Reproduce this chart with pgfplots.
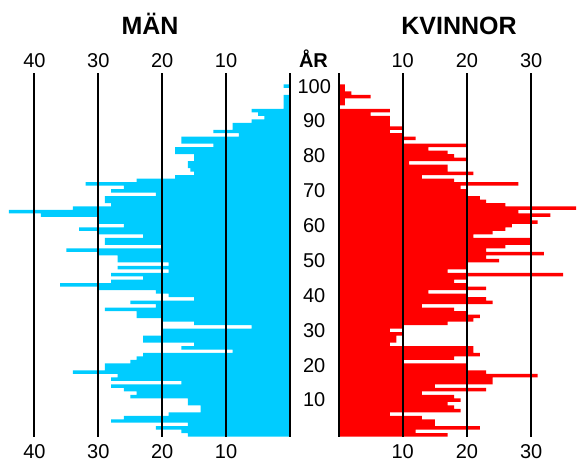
\documentclass[border=0pt]{standalone}
\usepackage{fontspec}
\setmainfont{Liberation Sans}
\usepackage{pgfplots}
\usepackage{pgfplotstable}
\pgfplotsset{compat=1.18}

\definecolor{man}{RGB}{0,204,255}
\definecolor{kvinna}{RGB}{255,0,0}

% age, men, women
\pgfplotstableread{
age men women
100 1 1
99 0 1
98 0 2
97 1 5
96 1 1
95 1 1
94 1 0
93 6 8
92 5 5
91 4 8
90 6 8
89 9 8
88 9 10
87 12 8
86 8 10
85 17 12
84 17 10
83 12 20
82 18 14
81 18 17
80 15 18
79 15 20
78 16 11
77 16 17
76 15.6 17
75 15 21
74 18 13
73 24 18
72 32 28
71 26 19
70 28 20
69 21 20
68 29 22
67 29 23
66 28 26
65 34 37
64 44 28
63 39 33
62 30 30
61 30 31
60 26 27
59 33 26
58 30 24
57 23 21
56 29 30
55 29 30
54 20 26
53 35 23
52 30 32
51 27 23
50 27 25
49 19 20
48 27 20
47 19 17
46 28 35
45 23 20
44 28 18
43 36 20
42 30 23
41 21 14
40 19 20
39 15 23
38 25 24
37 21 13
36 29 18
35 24 20
34 24 22
33 20 21
32 15 17
31 6 10
30 20 8
29 20 10
28 23 9
27 23 9
26 15 8
25 17 21
24 9 21
23 23 22
22 24 18
21 25 10
20 29 20
19 29 20
18 34 23
17 27 31
16 28 24
15 17 24
14 28 15
13 26 23
12 24 13
11 25 18
10 16 19
9 16 17
8 14 18
7 14 19
6 19 8
5 26 13
4 28 15
3 16 15
2 21 22
1 17 12
0 16 17
}\pyramid

\pgfplotsset{
  pyr/.style={
    scale only axis, height=363.8pt,
    ymin=-0.5, ymax=103.8,
    xbar, clip=false, axis on top,
    axis line style={draw=none},
    ytick=\empty, xtick={0,10,20,30,40}, xticklabels={},
    xtick style={draw=none},
    xmajorgrids, major grid style={black, line width=2pt},
  },
}
\tikzset{lab/.style={font=\fontsize{20}{24}\selectfont}}

\begin{document}
\begin{tikzpicture}
\useasboundingbox (0,0) rectangle (578pt,461pt);

% MÄN
\begin{axis}[pyr, at={(0pt,24.3pt)}, anchor=south west,
  width=290pt, xmin=0, xmax=45.4, x dir=reverse]
  \addplot[fill=man, draw=none, bar width=1, bar shift=0pt]
    table[x=men, y=age] {\pyramid};
  \pgfplotsinvokeforeach{10,20,30,40}{
    \node[lab, anchor=base, yshift=5pt] at (axis cs:#1,103.8) {#1};
    \node[lab, anchor=base, yshift=-21.3pt] at (axis cs:#1,-0.5) {#1};
  }
  \pgfplotsinvokeforeach{10,20,30,40,50,60,70,80,90,100}{
    \node[lab, anchor=center, xshift=24.25pt] at (axis cs:0,#1) {#1};
  }
  \node[font=\fontsize{20}{24}\selectfont\bfseries, anchor=base,
    xshift=23.5pt, yshift=5pt] at (axis cs:0,103.8) {ÅR};
\end{axis}

% KVINNOR
\begin{axis}[pyr, at={(338.5pt,24.3pt)}, anchor=south west,
  width=239.5pt, xmin=0, xmax=37.3]
  \addplot[fill=kvinna, draw=none, bar width=1, bar shift=0pt]
    table[x=women, y=age] {\pyramid};
  \pgfplotsinvokeforeach{10,20,30}{
    \node[lab, anchor=base, yshift=5pt] at (axis cs:#1,103.8) {#1};
    \node[lab, anchor=base, yshift=-21.3pt] at (axis cs:#1,-0.5) {#1};
  }
\end{axis}

\node[anchor=base, font=\fontsize{25}{30}\selectfont\bfseries] at (150pt,426pt) {MÄN};
\node[anchor=base, font=\fontsize{25}{30}\selectfont\bfseries] at (459pt,426pt) {KVINNOR};
\end{tikzpicture}
\end{document}
